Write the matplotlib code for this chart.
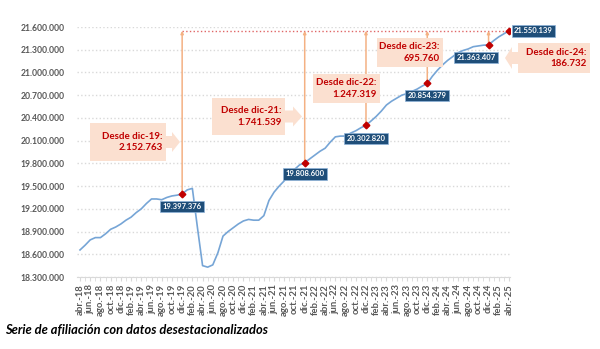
import matplotlib.pyplot as plt
from matplotlib.patches import Polygon
from matplotlib.ticker import FuncFormatter, MultipleLocator

plt.rcParams['font.family'] = ['Lato', 'DejaVu Sans']

# afiliados desestacionalizados, mensual de abr-18 a abr-25
afiliados = [
    18657000, 18720000, 18790000, 18820000, 18820000, 18870000, 18930000, 18960000,
    19000000, 19050000, 19090000, 19150000, 19200000, 19270000, 19330000, 19330000,
    19320000, 19350000, 19370000, 19380000, 19397376, 19450000, 19470000, 18950000,
    18450000, 18430000, 18460000, 18620000, 18840000, 18900000, 18950000, 19000000,
    19040000, 19060000, 19050000, 19050000, 19110000, 19310000, 19420000, 19500000,
    19570000, 19650000, 19720000, 19780000, 19808600, 19860000, 19910000, 19960000,
    20000000, 20080000, 20150000, 20160000, 20160000, 20200000, 20230000, 20270000,
    20302820, 20360000, 20420000, 20490000, 20570000, 20620000, 20660000, 20700000,
    20720000, 20750000, 20780000, 20820000, 20854379, 20950000, 21030000, 21100000,
    21160000, 21210000, 21260000, 21290000, 21310000, 21340000, 21350000, 21360000,
    21363407, 21420000, 21470000, 21510000, 21550139,
]
meses = ['ene.', 'feb.', 'mar.', 'abr.', 'may.', 'jun.', 'jul.', 'ago.',
         'sep.', 'oct.', 'nov.', 'dic.']
fechas = [f"{meses[(3 + i) % 12]}-{18 + (3 + i) // 12}" for i in range(len(afiliados))]

# diciembres de referencia
hitos = ['dic.-19', 'dic.-21', 'dic.-22', 'dic.-23', 'dic.-24']
hitos_txt = ['dic-19', 'dic-21', 'dic-22', 'dic-23', 'dic-24']


def miles(v, pos=None):
    return f"{int(round(v)):,}".replace(',', '.')


fig = plt.figure(figsize=(6, 3.49), dpi=100)
ax = fig.add_axes([77 / 600, 1 - 277 / 349, 433 / 600, 250 / 349])

x = list(range(len(afiliados)))
ax.plot(x, afiliados, color='#76A5D6', linewidth=1.2, zorder=3)

ax.set_xlim(-0.59, 84.2)
ax.set_ylim(18300000, 21600000)
ax.yaxis.set_major_locator(MultipleLocator(300000))
ax.yaxis.set_major_formatter(FuncFormatter(miles))
ax.grid(axis='y', color='#D9D9D9', linestyle=':', linewidth=1.0)
ax.set_xticks(x[::2])
ax.set_xticklabels(fechas[::2], rotation=90)
ax.set_xticks(x, minor=True)
for s in ['top', 'right', 'left']:
    ax.spines[s].set_visible(False)
ax.spines['bottom'].set_color('#D9D9D9')
ax.tick_params(axis='y', length=0, labelsize=6.2, labelcolor='#595959', pad=9)
ax.tick_params(axis='x', which='both', length=3, color='#D9D9D9',
               labelsize=6.8, labelcolor='#595959', pad=2)
for t in ax.get_yticklabels() + ax.get_xticklabels():
    t.set_fontweight('bold')

final = afiliados[-1]
idx = [fechas.index(h) for h in hitos]

# linea de nivel actual
ax.plot([idx[0], x[-1]], [final, final], color='#E06666', linestyle=':',
        linewidth=1.0, zorder=2)

for i in idx:
    ax.annotate('', xy=(i, final), xytext=(i, afiliados[i]),
                arrowprops=dict(arrowstyle='-|>', color='#F4B183', lw=1.1,
                                mutation_scale=4, shrinkA=0, shrinkB=0),
                zorder=2)
ax.plot(idx + [x[-1]], [afiliados[i] for i in idx] + [final], linestyle='none',
        marker='D', markersize=3.4, color='#C00000', zorder=4)

# etiquetas de valor
etiqueta = dict(boxstyle='square,pad=0.3', fc='#1F4E79', ec='#8FB4DA', lw=0.5)
offsets = [(0, -9), (0, -8), (0, -9.5), (0, -8.5), (-9, -9)]
for i, off in zip(idx, offsets):
    ax.annotate(miles(afiliados[i]), xy=(i, afiliados[i]), xytext=off,
                textcoords='offset points', ha='center', va='center',
                fontsize=5.5, fontweight='bold', color='white', bbox=etiqueta,
                zorder=5, annotation_clip=False)
ax.annotate(miles(final), xy=(x[-1], final), xytext=(3.5, 0),
            textcoords='offset points', ha='left', va='center',
            fontsize=5.5, fontweight='bold', color='white', bbox=etiqueta,
            zorder=5, annotation_clip=False)


def px(p):
    return (p[0] / 600, 1 - p[1] / 349)


def callout(x0, x1, y0, y1, tip=None, head=None):
    ym = (y0 + y1) / 2
    if tip is None:
        pts = [(x0, y0), (x1, y0), (x1, y1), (x0, y1)]
    elif tip > x1:
        pts = [(x0, y0), (x1, y0), (x1, ym - 6), (head, ym - 6), (head, ym - 10),
               (tip, ym), (head, ym + 10), (head, ym + 6), (x1, ym + 6),
               (x1, y1), (x0, y1)]
    else:
        pts = [(x1, y0), (x0, y0), (x0, ym - 6), (head, ym - 6), (head, ym - 11),
               (tip, ym), (head, ym + 11), (head, ym + 6), (x0, ym + 6),
               (x0, y1), (x1, y1)]
    fig.add_artist(Polygon([px(p) for p in pts], closed=True, fc='#FBE0D0',
                           ec='none', transform=fig.transFigure, zorder=2))


cajas = [
    (90, 166, 123, 161, 180, 172),
    (212, 285, 98, 135, 302, 293),
    (313, 380, 74, 103, None, None),
    (377, 443, 38, 67, None, None),
    (518, 590, 43, 73, 505, 512),
]
for h, i, (x0, x1, y0, y1, tip, head) in zip(hitos_txt, idx, cajas):
    callout(x0, x1, y0, y1, tip, head)
    fig.text(*px((x1 - 3.5, (y0 + y1) / 2)),
             f"Desde {h}:\n{miles(final - afiliados[i])}",
             ha='right', va='center', ma='right', fontsize=7, fontweight='bold',
             color='#C00000', linespacing=1.35, zorder=3)

fig.text(*px((5, 330)), 'Serie de afiliación con datos desestacionalizados',
         ha='left', va='center', fontsize=9.3, fontweight='bold', style='italic',
         color='black')

fig.savefig('out.png', dpi=100)
